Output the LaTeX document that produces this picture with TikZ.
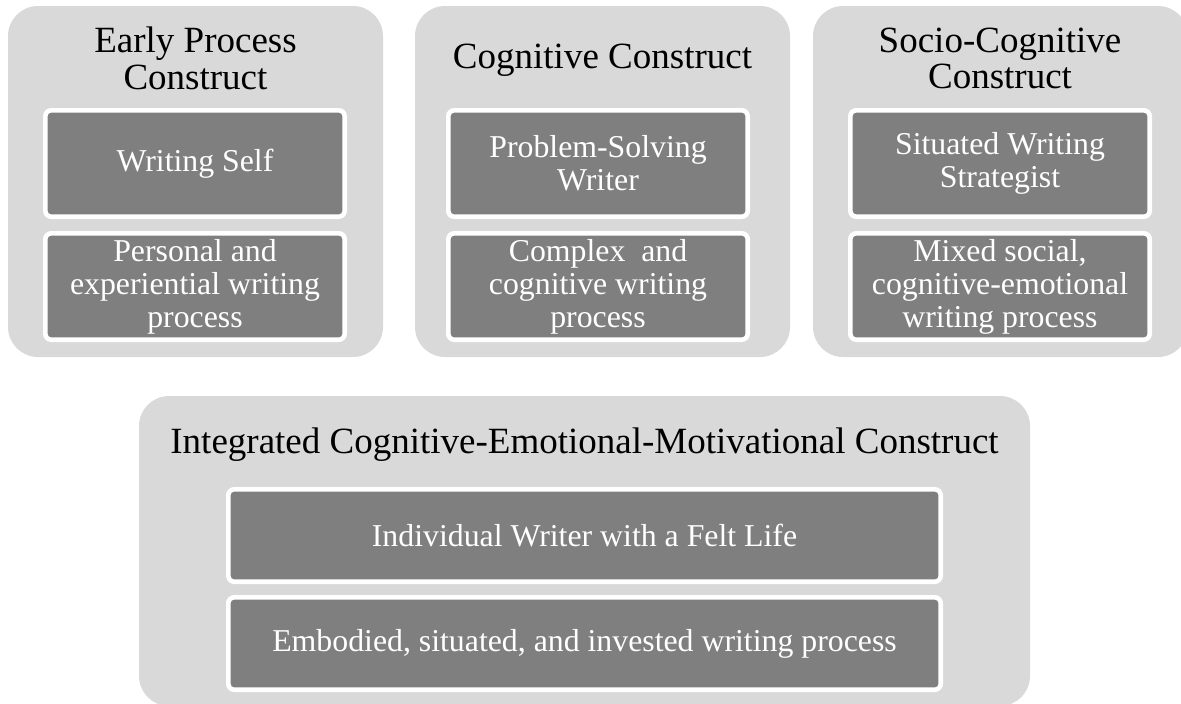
\documentclass[tikz,border=0pt]{standalone}
\usepackage{fontspec}
\setmainfont{Liberation Serif}
\definecolor{outerGray}{HTML}{D9D9D9}
\definecolor{innerGray}{HTML}{7F7F7F}

\begin{document}
\begin{tikzpicture}[x=0.5pt, y=-0.5pt,
    outerBox/.style={fill=outerGray, rounded corners=15pt},
    innerBox/.style={fill=innerGray, draw=white, line width=2.3pt, rounded corners=3pt},
    titleText/.style={align=center, font=\fontsize{18.5}{18.4}\selectfont},
    innerText/.style={align=center, text=white, font=\fontsize{15.9}{16.4}\selectfont}]
    \def\bw{2.3}
    \def\innerWidth{304}

    \useasboundingbox (0,0) rectangle (1181,703);

    % Top columns
    \foreach \boxLeft/\innerLeft in {8/43, 415/446, 813/848} {
        \fill[outerBox]
            (\boxLeft, 6)
            rectangle ++(375, 351);
        \draw[innerBox]
            ({\innerLeft + \bw}, {108 + \bw})
            rectangle ({\innerLeft + \innerWidth - \bw}, {219 - \bw});
        \draw[innerBox]
            ({\innerLeft + \bw}, {231 + \bw})
            rectangle ({\innerLeft + \innerWidth - \bw}, {342 - \bw});
    }

    % Column titles
    \node[titleText] (earlyTitle) at (195.5, 58.5) {Early Process\\Construct};
    \node[titleText] (cogTitle) at (602.5, 60.5) {Cognitive Construct};
    \node[titleText] (socioTitle) at (1000, 58.5) {Socio-Cognitive\\Construct};

    % Column contents
    \node[innerText] (earlyWriter) at (195, 163.5) {Writing Self};
    \node[innerText] (earlyProcess) at (195, 287) {Personal and\\experiential writing\\process};
    \node[innerText] (cogWriter) at (598, 163.5) {Problem-Solving\\Writer};
    \node[innerText] (cogProcess) at (598, 287) {Complex\ \ and\\cognitive writing\\process};
    \node[innerText] (socioWriter) at (1000, 163.5) {Situated Writing\\Strategist};
    \node[innerText] (socioProcess) at (1000, 287) {Mixed social,\\cognitive-emotional\\writing process};

    % Bottom block
    \fill[outerBox]
        (139, 396)
        rectangle (1030, 706);
    \draw[innerBox]
        ({226 + \bw}, {487 + \bw})
        rectangle ({943 - \bw}, {584 - \bw});
    \draw[innerBox]
        ({226 + \bw}, {595 + \bw})
        rectangle ({943 - \bw}, {692 - \bw});

    \node[titleText] (intTitle) at (584.5, 444.5) {Integrated Cognitive-Emotional-Motivational Construct};
    \node[innerText] (intWriter) at (584.5, 535.5) {Individual Writer with a Felt Life};
    \node[innerText] (intProcess) at (584.5, 643.5) {Embodied, situated, and invested writing process};

\end{tikzpicture}
\end{document}
